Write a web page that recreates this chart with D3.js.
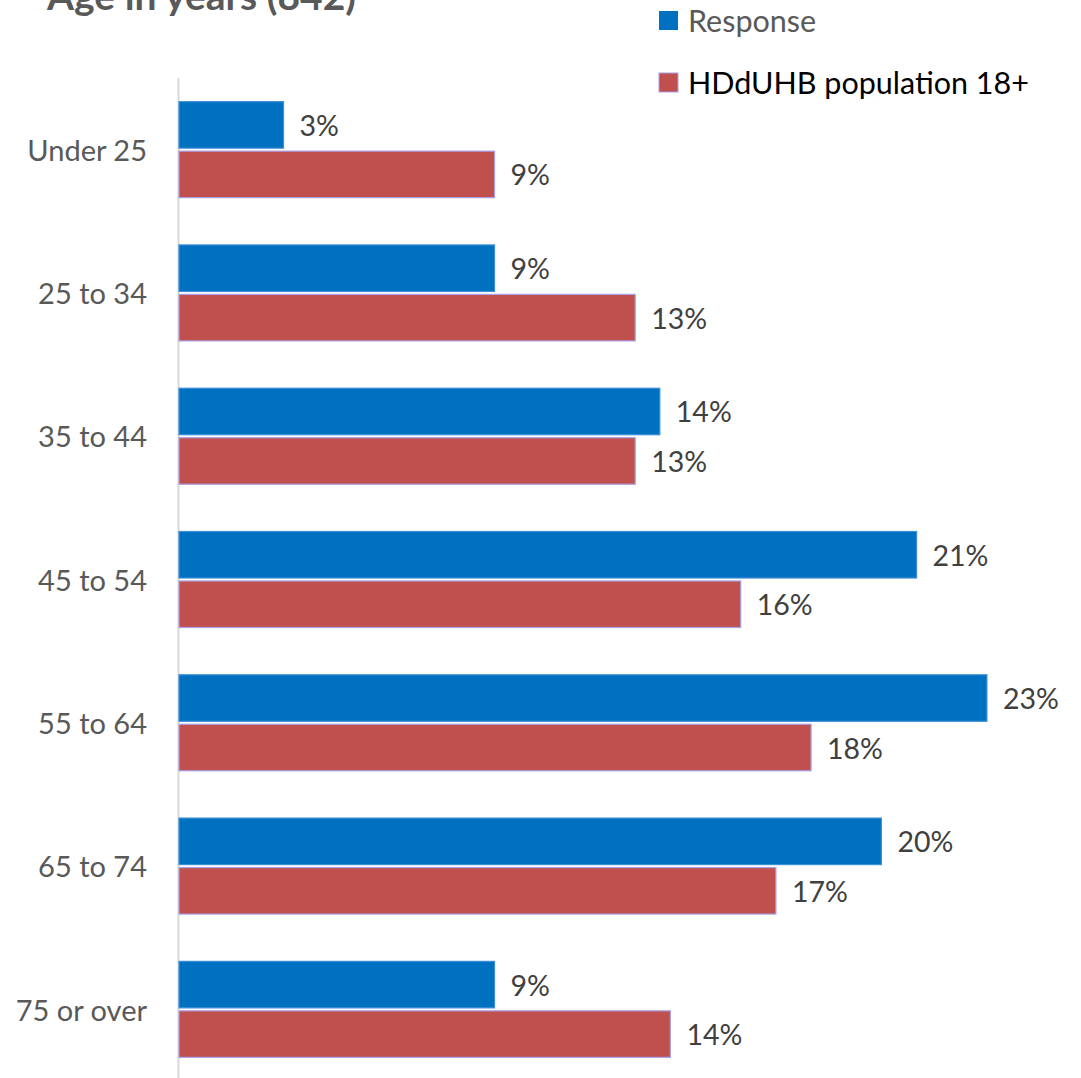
<!DOCTYPE html>
<html><head><meta charset="utf-8">
<script src="https://cdn.jsdelivr.net/npm/d3@7"></script>
<style>body{margin:0;background:#fff}svg{display:block}text{font-family:Lato,"Open Sans",sans-serif}</style>
</head><body>
<script>
const categories = ["Under 25","25 to 34","35 to 44","45 to 54","55 to 64","65 to 74","75 or over"];
const seriesNames = ["Response","HDdUHB population 18+"];
const responseValues = [3, 9, 13.7, 21, 23, 20, 9];
const populationValues = [9, 13, 13, 16, 18, 17, 14];
const responseLabels = ["3%","9%","14%","21%","23%","20%","9%"];
const populationLabels = ["9%","13%","13%","16%","18%","17%","14%"];
const titleText = "Age in years (842)";

const W = 1081, H = 1078;
const svg = d3.select("body").append("svg").attr("width", W).attr("height", H);

const x = d3.scaleLinear().domain([0, 1]).range([178, 178 + 35.17]);
const y = d3.scaleBand().domain(categories).range([78, 1081]).paddingInner(0.33).paddingOuter(0.165);
const y1 = d3.scaleBand().domain(seriesNames).range([0, y.bandwidth()]).paddingInner(0.06);
const colors = {"Response":"#0070C0","HDdUHB population 18+":"#C0504D"};
const strokes = {"Response":"#3d8fd6","HDdUHB population 18+":"#a9a0e6"};

// title
svg.append("text").attr("x", 47).attr("y", 10).attr("font-size", 39).attr("font-weight", "bold")
  .attr("fill", "#595959").text(titleText);

// axis line
svg.append("line").attr("x1", 178.5).attr("x2", 178.5).attr("y1", 78).attr("y2", 1078)
  .attr("stroke", "#d9d9d9").attr("stroke-width", 2);

const data = [
  {name: seriesNames[0], values: responseValues, labels: responseLabels},
  {name: seriesNames[1], values: populationValues, labels: populationLabels}
];

data.forEach(s => {
  const g = svg.append("g");
  g.selectAll("rect").data(categories).join("rect")
    .attr("x", x(0) + 1)
    .attr("y", c => y(c) + y1(s.name))
    .attr("width", (c, i) => x(s.values[i]) - x(0) - 1)
    .attr("height", y1.bandwidth())
    .attr("fill", colors[s.name])
    .attr("stroke", strokes[s.name]).attr("stroke-width", 1.2);
  g.selectAll("text").data(categories).join("text")
    .attr("x", (c, i) => x(s.values[i]) + 16)
    .attr("y", c => y(c) + y1(s.name) + y1.bandwidth() / 2 + 1)
    .attr("dy", "0.35em")
    .attr("font-size", 28.5).attr("fill", "#404040")
    .text((c, i) => s.labels[i]);
});

// category labels
svg.append("g").selectAll("text").data(categories).join("text")
  .attr("x", 147).attr("y", c => y(c) + y.bandwidth() / 2 + 1)
  .attr("dy", "0.35em").attr("text-anchor", "end")
  .attr("font-size", 29).attr("fill", "#595959").text(c => c);

// legend
const legendY = [20.5, 82.5];
const legendFill = ["#595959", "#000000"];
seriesNames.forEach((n, i) => {
  svg.append("rect").attr("x", 659).attr("y", legendY[i] - 9.5).attr("width", 19).attr("height", 19)
    .attr("fill", colors[n]).attr("stroke", i === 1 ? strokes[n] : "none");
  svg.append("text").attr("x", 688).attr("y", legendY[i] + 1).attr("dy", "0.35em")
    .attr("font-size", 30.5).attr("fill", legendFill[i]).text(n);
});
</script>
</body></html>
